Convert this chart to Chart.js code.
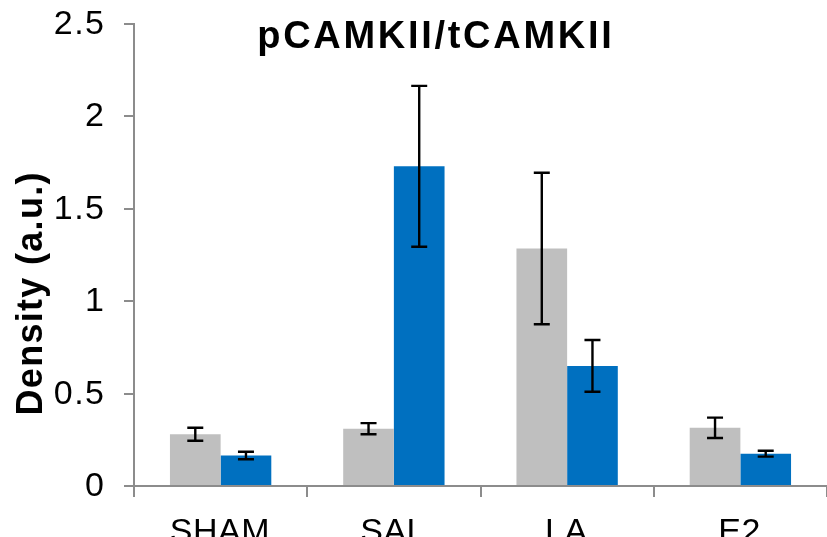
<!DOCTYPE html>
<html>
<head>
<meta charset="utf-8">
<script src="https://cdn.jsdelivr.net/npm/chart.js@4.4.1/dist/chart.umd.min.js"></script>
<style>
  html, body { margin: 0; padding: 0; background: #ffffff; }
  #wrap { width: 827px; height: 537px; position: relative; }
</style>
</head>
<body>
<div id="wrap"><canvas id="c" width="827" height="537"></canvas></div>
<script>
const categories = ["SHAM", "SAL", "LA", "E2"];
const seriesGray = [0.28, 0.31, 1.285, 0.315];
const errGray = [0.035, 0.03, 0.41, 0.055];
const seriesBlue = [0.165, 1.73, 0.65, 0.175];
const errBlue = [0.02, 0.435, 0.14, 0.016];
const yTicks = [0, 0.5, 1, 1.5, 2, 2.5];
const chartTitle = "pCAMKII/tCAMKII";
const yTitle = "Density (a.u.)";

const FONT = "'Liberation Sans', Arial, sans-serif";
const AXIS = "#8c8c8c";

// draw text with extra letter spacing; align: 'left' | 'center' | 'right'
function spacedText(ctx, str, x, y, spacing, align) {
  const chars = Array.from(str);
  const widths = chars.map(c => ctx.measureText(c).width);
  const total = widths.reduce((a, b) => a + b, 0) + spacing * (chars.length - 1);
  let cx = align === 'center' ? x - total / 2 : align === 'right' ? x - total : x;
  ctx.textAlign = 'left';
  chars.forEach((c, i) => { ctx.fillText(c, cx, y); cx += widths[i] + spacing; });
}

const errorBars = {
  id: 'errorBars',
  afterDatasetsDraw(chart) {
    const ctx = chart.ctx;
    const y = chart.scales.y;
    ctx.save();
    ctx.strokeStyle = '#000000';
    ctx.lineWidth = 2.4;
    chart.data.datasets.forEach((ds, di) => {
      const meta = chart.getDatasetMeta(di);
      meta.data.forEach((el, i) => {
        const v = ds.data[i], e = ds.errors[i];
        const top = y.getPixelForValue(v + e);
        const bot = y.getPixelForValue(v - e);
        const x = el.x;
        const cw = 8;
        ctx.beginPath();
        ctx.moveTo(x, top); ctx.lineTo(x, bot);
        ctx.moveTo(x - cw, top); ctx.lineTo(x + cw, top);
        ctx.moveTo(x - cw, bot); ctx.lineTo(x + cw, bot);
        ctx.stroke();
      });
    });
    ctx.restore();
  }
};

const texts = {
  id: 'texts',
  afterDraw(chart) {
    const ctx = chart.ctx;
    const xs = chart.scales.x, ys = chart.scales.y;
    ctx.save();
    ctx.fillStyle = '#000000';
    ctx.textBaseline = 'alphabetic';
    // y tick labels
    ctx.font = "34px " + FONT;
    yTicks.forEach(v => {
      spacedText(ctx, String(v), 104, ys.getPixelForValue(v) + 10, 1.5, 'right');
    });
    // x tick labels
    categories.forEach((c, i) => {
      spacedText(ctx, c, xs.getPixelForValue(i) - 1, 542, 0.5, 'center');
    });
    // title
    ctx.font = "bold 38px " + FONT;
    spacedText(ctx, chartTitle, 434.5, 47.5, 2.7, 'center');
    // y axis title
    ctx.font = "bold 36px " + FONT;
    ctx.translate(42, 294);
    ctx.rotate(-Math.PI / 2);
    spacedText(ctx, yTitle, 0, 0, 1.3, 'center');
    ctx.restore();
  }
};

new Chart(document.getElementById('c'), {
  type: 'bar',
  data: {
    labels: categories,
    datasets: [
      { data: seriesGray, errors: errGray, backgroundColor: '#bfbfbf', borderWidth: 0 },
      { data: seriesBlue, errors: errBlue, backgroundColor: '#0070c0', borderWidth: 0 }
    ]
  },
  options: {
    responsive: false,
    animation: false,
    devicePixelRatio: 1,
    layout: { padding: { top: 24, right: 0, left: 0, bottom: 0 } },
    plugins: { legend: { display: false }, title: { display: false }, tooltip: { enabled: false } },
    datasets: { bar: { categoryPercentage: 0.585, barPercentage: 1.0 } },
    scales: {
      x: {
        offset: true,
        grid: { display: true, offset: true, drawOnChartArea: false, tickLength: 11, tickColor: AXIS, lineWidth: 2 },
        border: { color: AXIS, width: 2 },
        ticks: { display: false },
        afterFit(s) { s.height = 51; }
      },
      y: {
        min: 0, max: 2.5,
        afterBuildTicks(s) { s.ticks = yTicks.map(v => ({ value: v })); },
        grid: { display: true, drawOnChartArea: false, tickLength: 10, tickColor: AXIS, lineWidth: 2 },
        border: { color: AXIS, width: 2 },
        ticks: { display: false },
        afterFit(s) { s.width = 134; }
      }
    }
  },
  plugins: [errorBars, texts]
});
</script>
</body>
</html>
